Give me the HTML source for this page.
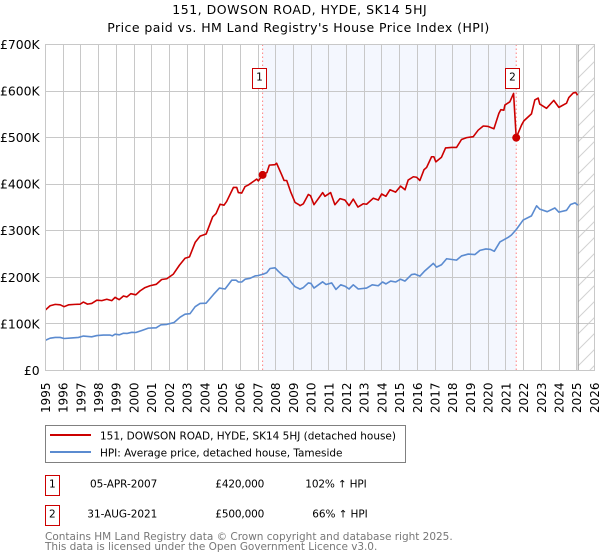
<!DOCTYPE html>
<html lang="en">
<head>
<meta charset="utf-8">
<title>151, DOWSON ROAD, HYDE, SK14 5HJ</title>
<style>
html,body{margin:0;padding:0;background:#fff;width:600px;height:560px;overflow:hidden}
svg{display:block;font-family:"DejaVu Sans","Liberation Sans",sans-serif}
text{fill:#000}
</style>
</head>
<body>
<svg id="chart" width="600" height="560" viewBox="0 0 600 560" xmlns="http://www.w3.org/2000/svg">
<defs>
<pattern id="hatch" patternUnits="userSpaceOnUse" width="16" height="16">
<path d="M-4 20 L20 -4 M-4 4 L4 -4 M12 20 L20 12" stroke="#d2d2d2" stroke-width="1" fill="none"/>
</pattern>
</defs>
<text x="172.3" y="13.8" font-size="12.5" textLength="254.4" lengthAdjust="spacing">151, DOWSON ROAD, HYDE, SK14 5HJ</text>
<text x="107.3" y="32.2" font-size="12.5" textLength="382" lengthAdjust="spacing">Price paid vs. HM Land Registry's House Price Index (HPI)</text>
<g id="plot"></g>

<g>
<rect x="45.5" y="425.5" width="360" height="37" fill="#fff" stroke="#808080" stroke-width="1"/>
<line x1="50" y1="435" x2="91" y2="435" stroke="#cc0000" stroke-width="2"/>
<text x="100" y="439.3" font-size="10.5" textLength="296" lengthAdjust="spacing">151, DOWSON ROAD, HYDE, SK14 5HJ (detached house)</text>
<line x1="50" y1="452" x2="91" y2="452" stroke="#5b8bd0" stroke-width="2"/>
<text x="100" y="456.3" font-size="10.5" textLength="242.5" lengthAdjust="spacing">HPI: Average price, detached house, Tameside</text>
</g>

<g>
<rect x="45.5" y="475.5" width="14" height="20" fill="#fff" stroke="#cc0000" stroke-width="1"/>
<text x="52.3" y="487.5" text-anchor="middle" font-size="10.5">1</text>
<text x="90" y="487.5" font-size="10.5" textLength="67.3" lengthAdjust="spacing">05-APR-2007</text>
<text x="215.3" y="487.5" font-size="10.5" textLength="49" lengthAdjust="spacing">£420,000</text>
<text x="305.3" y="487.5" font-size="10.5" textLength="61.4" lengthAdjust="spacing">102% ↑ HPI</text>
</g>
<g>
<rect x="45.5" y="505.5" width="14" height="20" fill="#fff" stroke="#cc0000" stroke-width="1"/>
<text x="52.3" y="517.5" text-anchor="middle" font-size="10.5">2</text>
<text x="87.3" y="517.5" font-size="10.5" textLength="70" lengthAdjust="spacing">31-AUG-2021</text>
<text x="215.3" y="517.5" font-size="10.5" textLength="49" lengthAdjust="spacing">£500,000</text>
<text x="312.3" y="517.5" font-size="10.5" textLength="55.4" lengthAdjust="spacing">66% ↑ HPI</text>
</g>

<text x="45" y="540" font-size="10.5" textLength="407.7" lengthAdjust="spacing" style="fill:#777">Contains HM Land Registry data © Crown copyright and database right 2025.</text>
<text x="45" y="550" font-size="10.5" textLength="332.3" lengthAdjust="spacing" style="fill:#777">This data is licensed under the Open Government Licence v3.0.</text>
</svg>

<script>
const yearTicks = [1995,1996,1997,1998,1999,2000,2001,2002,2003,2004,2005,2006,2007,2008,2009,2010,2011,2012,2013,2014,2015,2016,2017,2018,2019,2020,2021,2022,2023,2024,2025,2026];
const priceTicks = [0,100,200,300,400,500,600,700];
const priceTickLabels = ["£0","£100K","£200K","£300K","£400K","£500K","£600K","£700K"];

const priceDates = [1995.0,1995.26,1995.55,1995.83,1996.05,1996.3,1996.67,1996.96,1997.14,1997.37,1997.61,1997.9,1998.18,1998.46,1998.74,1998.93,1999.16,1999.4,1999.6,1999.82,2000.1,2000.34,2000.62,2000.9,2001.25,2001.56,2001.85,2002.22,2002.56,2002.88,2003.13,2003.45,2003.73,2004.07,2004.44,2004.63,2004.86,2005.08,2005.23,2005.61,2005.8,2005.89,2006.08,2006.27,2006.46,2006.93,2007.02,2007.26,2007.5,2007.64,2007.96,2008.05,2008.34,2008.47,2008.62,2008.84,2009.09,2009.31,2009.37,2009.56,2009.84,2009.97,2010.16,2010.65,2010.78,2011.1,2011.34,2011.63,2011.91,2012.14,2012.38,2012.64,2012.94,2013.13,2013.51,2013.79,2013.98,2014.22,2014.45,2014.77,2015.05,2015.3,2015.48,2015.77,2015.95,2016.14,2016.37,2016.52,2016.8,2016.93,2017.04,2017.36,2017.59,2017.93,2018.21,2018.49,2018.78,2019.15,2019.43,2019.72,2020.0,2020.32,2020.6,2020.71,2020.88,2020.94,2021.22,2021.43,2021.58,2021.88,2022.01,2022.44,2022.63,2022.82,2022.91,2023.29,2023.7,2023.99,2024.42,2024.55,2024.8,2024.95,2025.04];
const priceValues = [130,139,142,141,137,141,142,142.5,147,142.5,144,151,150,153,150,157,152,160,158,165,162.5,171,178,182,185,195.4,197,207,226,241,244,275,288.5,293,330,337,357,355,363,393,393,382,381,395,398.5,411,407,420,425,441,442,445,420,408,408,384,361,356,354,358,378,375,356,382,374,382,356,369,366,354,368,351,358,357,370,366,379,374,388,383,396,388,409,416,415,408,431,436,459,459,448,458,478,479,479,496,500,502,516,525,524,519,552,560,559,570,577,595,500,527,536,551,581,585,572,563,580,565,574,586,596,597,591];

const hpiDates = [1995.0,1995.26,1995.55,1995.83,1996.05,1996.49,1996.86,1997.14,1997.61,1997.9,1998.27,1998.65,1998.78,1998.93,1999.16,1999.4,1999.6,1999.87,2000.1,2000.44,2000.81,2001.25,2001.51,2001.85,2002.26,2002.6,2002.88,2003.16,2003.45,2003.73,2004.07,2004.48,2004.82,2005.14,2005.52,2005.76,2005.89,2006.08,2006.27,2006.55,2006.83,2007.02,2007.3,2007.49,2007.68,2007.96,2008.15,2008.43,2008.66,2008.9,2009.09,2009.31,2009.37,2009.56,2009.84,2009.99,2010.16,2010.65,2010.84,2011.16,2011.4,2011.67,2011.91,2012.14,2012.38,2012.66,2013.13,2013.45,2013.79,2014.03,2014.22,2014.49,2014.77,2015.05,2015.3,2015.67,2015.86,2016.14,2016.42,2016.9,2017.08,2017.36,2017.65,2018.21,2018.49,2018.87,2019.25,2019.53,2019.87,2020.13,2020.34,2020.66,2021.13,2021.31,2021.59,2021.97,2022.44,2022.73,2022.91,2023.33,2023.76,2023.99,2024.42,2024.65,2024.9,2025.06];
const hpiValues = [65,69.4,71,71,68.7,70,71,74,72.3,75,76,76,74.4,78,76.6,80,79.5,82,81.6,86,91,91.6,98,99,103,114.5,121,122,137,144,144.6,163,177,175,194,194,190,190,196,198,203,204,207,210,219,220.5,213,203,200,188,180,176,174.7,178,188,187,177,190.4,184.7,188,174,184,181,175,184,175,177,184,182,190,186,192,190,196,192,206,207,202.6,214,230,222,227,240,237,246,250,249,258,261,260,256,276,286,291,303,323,332,353.6,346.5,341,349,340,344,356.5,360,355];

const saleLabels = ["1","2"];
const saleDates = [2007.26,2021.58];
const saleValues = [420,500];
const dataEndDate = 2025.08;

const SVGNS = "http://www.w3.org/2000/svg";
const plot = document.getElementById("plot");
const left = 45.5, right = 594.5, top_ = 44.5, bottom = 370.5;
const xMin = 1995, xMax = 2026, yMin = 0, yMax = 700;
function xScale(year){ return left + (year - xMin) / (xMax - xMin) * (right - left); }
function yScale(val){ return bottom - (val - yMin) / (yMax - yMin) * (bottom - top_); }
function make(tag, attrs){
  const el = document.createElementNS(SVGNS, tag);
  for (const k in attrs) el.setAttribute(k, attrs[k]);
  plot.appendChild(el);
  return el;
}
function linePath(xs, ys){
  return xs.map((d, i) => (i ? "L" : "M") + xScale(d).toFixed(2) + " " + yScale(ys[i]).toFixed(2)).join(" ");
}

const band = make("rect", {x: xScale(saleDates[0]), y: top_, width: xScale(saleDates[1]) - xScale(saleDates[0]), height: bottom - top_, fill: "#f4f7fe"});



const hatchArea = make("rect", {x: xScale(dataEndDate), y: top_, width: right - xScale(dataEndDate), height: bottom - top_, fill: "url(#hatch)"});



yearTicks.forEach(function(year){
  const x = Math.round(xScale(year) - 0.5) + 0.5;
  const grid = make("line", {x1: x, x2: x, y1: top_, y2: bottom, stroke: "#c8c8c8", "stroke-width": 1});
  
  
  const label = make("text", {transform: "translate(" + (xScale(year) + 4.4) + ",382.5) rotate(-90)", "text-anchor": "end", "font-size": 12});
  
  
  label.textContent = String(year);
});

priceTicks.forEach(function(val, i){
  const y = Math.round(yScale(val) - 0.5) + 0.5;
  const grid = make("line", {x1: left, x2: right, y1: y, y2: y, stroke: "#c8c8c8", "stroke-width": 1});
  
  
  const label = make("text", {x: 39.6, y: yScale(val) + 4.4, "text-anchor": "end", "font-size": 12.4});
  
  
  label.textContent = priceTickLabels[i];
});

const endLine = make("line", {x1: xScale(dataEndDate), x2: xScale(dataEndDate), y1: top_, y2: bottom, stroke: "#999999", "stroke-width": 1});



saleDates.forEach(function(d){
  const x = xScale(d);
  const guide = make("line", {x1: x, x2: x, y1: top_, y2: bottom, stroke: "#ff8080", "stroke-width": 1, "stroke-dasharray": "1.5 2.5"});
  
  
});

const hpiLine = make("path", {d: linePath(hpiDates, hpiValues), fill: "none", stroke: "#5b8bd0", "stroke-width": 1.6, "stroke-linejoin": "round"});



const priceLine = make("path", {d: linePath(priceDates, priceValues), fill: "none", stroke: "#cc0000", "stroke-width": 1.6, "stroke-linejoin": "round"});



saleDates.forEach(function(d, i){
  const dot = make("circle", {cx: xScale(d), cy: yScale(saleValues[i]), r: 4, fill: "#cc0000"});
  
  
  const bx = Math.round(xScale(d)) - 10.5;
  const box = make("rect", {x: bx, y: 68.5, width: 14, height: 20, fill: "#fff", stroke: "#cc0000", "stroke-width": 1});
  
  
  const num = make("text", {x: bx + 7, y: 80.5, "text-anchor": "middle", "font-size": 10.5});
  
  
  num.textContent = saleLabels[i];
});

const frame = make("rect", {x: left, y: top_, width: right - left, height: bottom - top_, fill: "none", stroke: "#c8c8c8", "stroke-width": 1});


</script>
</body>
</html>
